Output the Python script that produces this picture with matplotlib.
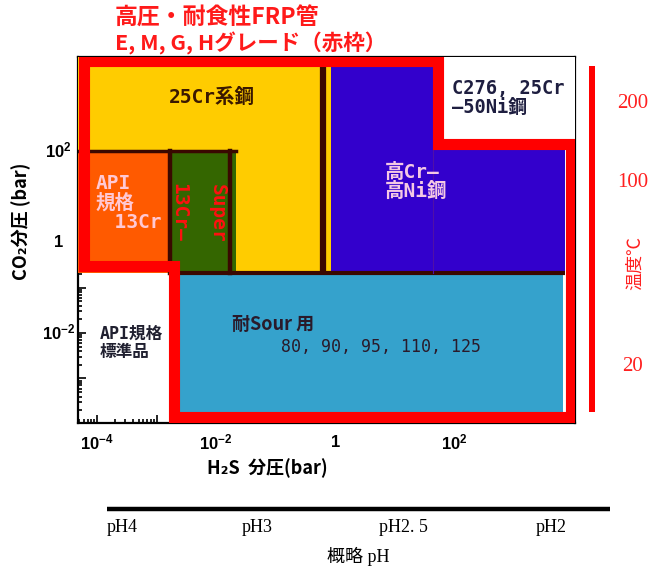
import matplotlib
matplotlib.use("Agg")
import matplotlib.pyplot as plt
from matplotlib.patches import Rectangle, Polygon
from matplotlib.ticker import LogLocator, NullFormatter, FixedLocator

SANS_JP = ["Noto Sans CJK JP", "DejaVu Sans"]
MONO_JP = ["DejaVu Sans Mono", "Noto Sans CJK JP"]
SERIF_JP = ["Liberation Serif", "Noto Sans CJK JP"]

plt.rcParams["font.family"] = SANS_JP
plt.rcParams["mathtext.fontset"] = "custom"
plt.rcParams["mathtext.rm"] = "Liberation Sans:bold"
plt.rcParams["mathtext.it"] = "Liberation Sans:bold"
plt.rcParams["mathtext.bf"] = "Liberation Sans:bold"

# ---- data (all pressures as log10 of bar) ----
h2s_lim = [-4.32, 4.03]
co2_lim = [-3.98, 4.07]
h2s_ticks = [-4, -2, 0, 2]
h2s_ticklabels = [r"$10^{-4}$", r"$10^{-2}$", r"$1$", r"$10^{2}$"]
co2_ticks = [-2, 0, 2]
co2_ticklabels = [r"$10^{-2}$", r"$1$", r"$10^{2}$"]

# application windows: [h2s_lo, h2s_hi, co2_lo, co2_hi]
cr25_window = [-4.32, -0.07, -0.68, 4.07]
api13cr_window = [-4.32, -2.77, -0.68, 2.0]
super13cr_window = [-2.77, -1.66, -0.68, 2.0]
hicr_window = [-0.07, 3.87, -0.68, 4.07]
c276_window = [1.73, 4.03, 2.15, 4.07]
sour_window = [-2.61, 3.83, -3.76, -0.73]

# boundary lines between windows
cr25_h2s_limit = -0.2
super13cr_h2s_limit = -1.76
sweet_co2_floor = -0.68
cra_h2s_divider = 1.65

# E, M, G, H grade envelope
grade_h2s = [-4.22, 1.73, 1.73, 3.97, 3.97, -2.71, -2.71, -4.22]
grade_co2 = [3.98, 3.98, 2.15, 2.15, -3.85, -3.85, -0.53, -0.53]

# temperature scale
temp_ticks = [20, 100, 200]
temp_lim = [13.1, 272]

# approximate pH scale
ph_labels = ["pH4", "pH3", "pH2. 5", "pH2"]
ph_pos = [0.03, 0.298, 0.59, 0.883]

RED = "#FF0000"
BROWN = "#3A0800"

W, H = 653, 573
fig = plt.figure(figsize=(W / 100, H / 100), dpi=100)


def fx(px):
    return px / W


def fy(py):
    return 1 - py / H


ax = fig.add_axes([fx(78), fy(423), fx(575) - fx(78), fy(57) - fy(423)])
ax.set_xscale("log")
ax.set_yscale("log")
ax.set_xlim(10 ** h2s_lim[0], 10 ** h2s_lim[1])
ax.set_ylim(10 ** co2_lim[0], 10 ** co2_lim[1])
ax.set_axisbelow(True)
for sp in ax.spines.values():
    sp.set_zorder(0.6)
    sp.set_linewidth(1.6)


def window(w, color, z=1):
    x0, x1, y0, y1 = [10 ** v for v in w]
    ax.add_patch(Rectangle((x0, y0), x1 - x0, y1 - y0, facecolor=color,
                           edgecolor="none", zorder=z))


window(cr25_window, "#FFCC00")
window(api13cr_window, "#FF5A00", 1.2)
window(super13cr_window, "#346600", 1.2)
window(hicr_window, "#3300CC")
window(c276_window, "white", 1.3)
window(sour_window, "#35A2CC")

# window boundaries
ax.plot([10 ** cr25_h2s_limit] * 2, [10 ** sweet_co2_floor, 10 ** co2_lim[1]],
        color=BROWN, lw=4.5, zorder=1.5, solid_capstyle="butt")
ax.plot([10 ** api13cr_window[0], 10 ** super13cr_window[1]],
        [10 ** api13cr_window[3]] * 2, color=BROWN, lw=2.5, zorder=1.5)
ax.plot([10 ** api13cr_window[1]] * 2, [10 ** sweet_co2_floor, 10 ** api13cr_window[3]],
        color=BROWN, lw=3.2, zorder=1.5)
ax.plot([10 ** super13cr_h2s_limit] * 2, [10 ** sweet_co2_floor, 10 ** api13cr_window[3]],
        color=BROWN, lw=3.2, zorder=1.5)
ax.plot([10 ** api13cr_window[1], 10 ** hicr_window[1]], [10 ** sweet_co2_floor] * 2,
        color=BROWN, lw=3, zorder=1.5, solid_capstyle="butt")
ax.plot([10 ** cra_h2s_divider] * 2, [10 ** sweet_co2_floor, 10 ** c276_window[2]],
        color="#5010A8", lw=0.8, zorder=1.5)

# grade envelope
ax.add_patch(Polygon([(10 ** a, 10 ** b) for a, b in zip(grade_h2s, grade_co2)],
                     closed=True, fill=False, edgecolor=RED, lw=8,
                     joinstyle="miter", zorder=3))

# ticks
ax.xaxis.set_major_locator(LogLocator(base=10, numticks=20))
ax.yaxis.set_major_locator(LogLocator(base=10, numticks=20))
ax.xaxis.set_minor_locator(LogLocator(base=10, subs=range(2, 10), numticks=20))
ax.yaxis.set_minor_locator(LogLocator(base=10, subs=range(2, 10), numticks=20))
for axis in (ax.xaxis, ax.yaxis):
    axis.set_major_formatter(NullFormatter())
    axis.set_minor_formatter(NullFormatter())
ax.tick_params(which="both", direction="in", top=True, right=True, width=1.2)
ax.tick_params(which="major", length=6)
ax.tick_params(which="minor", length=3)

# tick labels every second decade
for v, lab in zip(h2s_ticks, h2s_ticklabels):
    ax.text(10 ** v, -0.03, lab, transform=ax.get_xaxis_transform(),
            ha="center", va="top", fontsize=12)
for v, lab in zip(co2_ticks, co2_ticklabels):
    ax.text(-0.039, 10 ** v, lab, transform=ax.get_yaxis_transform(),
            ha="center", va="center", fontsize=12)

ax.set_xlabel("H₂S  分圧(bar)", fontsize=13, fontweight="bold", labelpad=22, x=0.38)
ax.set_ylabel("CO₂分圧 (bar)", fontsize=13, fontweight="bold", labelpad=30, y=0.55)

# window labels
tk = dict(family=MONO_JP, fontweight="bold", zorder=4)
ax.text(10 ** -2.07, 10 ** 3.19, "25Cr系鋼", color="#3A1800", fontsize=14,
        ha="center", va="center", **tk)
ax.text(10 ** -4.03, 10 ** 0.86, "API\n規格\n　13Cr", color="#FFC8D4", fontsize=14,
        ha="left", va="center", linespacing=1.0, **tk)
ax.text(10 ** -2.62, 10 ** 0.66, "13Cr–", color="#FF1010", fontsize=14,
        rotation=-90, ha="center", va="center", **tk)
ax.text(10 ** -1.98, 10 ** 0.64, "Super", color="#FF1010", fontsize=14,
        rotation=-90, ha="center", va="center", **tk)
ax.text(10 ** 0.84, 10 ** 1.32, "高Cr–\n高Ni鋼", color="#F4C8E4", fontsize=14,
        ha="left", va="center", linespacing=1.0, **tk)
ax.text(10 ** 1.97, 10 ** 3.16, "C276, 25Cr\n–50Ni鋼", color="#1E1E40", fontsize=13.5,
        ha="left", va="center", linespacing=1.0, **tk)
ax.text(10 ** -3.95, 10 ** -2.22, "API規格\n標準品", color="#202030", fontsize=12,
        ha="left", va="center", linespacing=1.0, **tk)
ax.text(10 ** -1.73, 10 ** -1.82, "耐Sour 用", color="#2A1A2A", fontsize=13,
        ha="left", va="center", family=SANS_JP, fontweight="bold", zorder=4)
ax.text(10 ** -0.91, 10 ** -2.31, "80, 90, 95, 110, 125", color="#2A1A2A", fontsize=12,
        ha="left", va="center", family=MONO_JP, zorder=4)

# title
fig.text(fx(115), fy(18), "高圧・耐食性FRP管", color="#FF1A1A", fontsize=16.5,
         fontweight="bold", ha="left", va="center")
fig.text(fx(115), fy(43), "E, M, G, Hグレード（赤枠）", color="#FF1A1A", fontsize=15.5,
         fontweight="bold", ha="left", va="center")

# temperature bar
tax = fig.add_axes([fx(589), fy(412), fx(595) - fx(589), fy(66) - fy(412)])
tax.set_facecolor(RED)
for sp in tax.spines.values():
    sp.set_visible(False)
tax.set_yscale("log")
tax.set_ylim(*temp_lim)
tax.set_xticks([])
tax.yaxis.set_minor_locator(FixedLocator([]))
tax.yaxis.tick_right()
tax.set_yticks(temp_ticks, [str(t) for t in temp_ticks])
tax.tick_params(axis="y", length=0, pad=27, labelcolor="#FF2020", labelsize=15)
for lab in tax.get_yticklabels():
    lab.set_family(SERIF_JP)
    lab.set_ha("center")
tax.yaxis.set_label_position("right")
tax.set_ylabel("温度℃", color="#FF2020", fontsize=13, rotation=90, family=SERIF_JP)
tax.yaxis.set_label_coords(6.3, 0.43)

# approximate pH bar
pax = fig.add_axes([fx(107), fy(519), fx(610) - fx(107), fy(499) - fy(519)])
pax.set_xlim(0, 1)
pax.set_ylim(0, 1)
pax.axhline(0.5, color="black", lw=3.2)
for sp in pax.spines.values():
    sp.set_visible(False)
pax.set_yticks([])
pax.set_xticks(ph_pos, ph_labels)
pax.tick_params(axis="x", length=0, pad=0, labelsize=13)
for lab in pax.get_xticklabels():
    lab.set_family(SERIF_JP)
pax.set_xlabel("概略 pH", fontsize=13, family=SERIF_JP, labelpad=8, x=0.5)
pax.patch.set_alpha(0)

fig.savefig("out.png", dpi=100)
